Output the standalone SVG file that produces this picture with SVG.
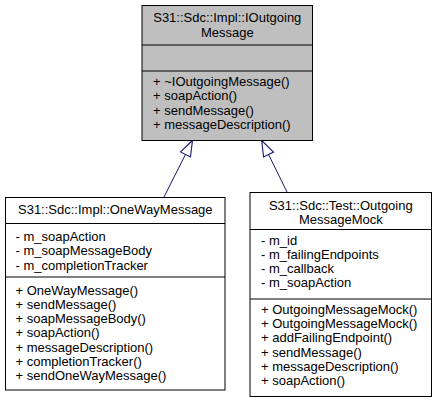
<svg xmlns="http://www.w3.org/2000/svg" width="434" height="404" viewBox="0 0 434 404">
<defs>
<style>
text{font-family:"Liberation Sans",Arial,sans-serif;font-size:13px;fill:#000}
.c{text-anchor:middle}
.box{stroke:#000;stroke-width:1}
.edge{stroke:#191970;stroke-width:1;fill:none}
</style>
<marker id="tri" markerUnits="userSpaceOnUse" markerWidth="20" markerHeight="20" viewBox="-16 -7 18 14" refX="0" refY="0" orient="auto">
<polygon points="0,0 -14,-5 -14,5" fill="#fff" stroke="#191970" stroke-width="1"/>
</marker>
</defs>
<rect width="434" height="404" fill="#fff"/>
<g id="connectors">
<path class="edge" d="M164,197 L192.5,140.5" marker-end="url(#tri)"/>
<path class="edge" d="M287,192 L261.7,140.5" marker-end="url(#tri)"/>
</g>
<g id="IOutgoingMessage">
<rect class="box" x="142" y="5.5" width="170.5" height="135" fill="#bfbfbf"/>
<line class="box" x1="142" y1="45" x2="312.5" y2="45"/>
<line class="box" x1="142" y1="71" x2="312.5" y2="71"/>
<text class="c" x="227.3" y="22">S31::Sdc::Impl::IOutgoing</text>
<text class="c" x="227.3" y="36.5">Message</text>
<text x="153" y="86">+ ~IOutgoingMessage()</text>
<text x="153" y="100.3">+ soapAction()</text>
<text x="153" y="114.6">+ sendMessage()</text>
<text x="153" y="128.9">+ messageDescription()</text>
</g>
<g id="OneWayMessage">
<rect class="box" x="5.5" y="197.5" width="219.5" height="192.5" fill="#fff"/>
<line class="box" x1="5.5" y1="223.5" x2="225" y2="223.5"/>
<line class="box" x1="5.5" y1="277" x2="225" y2="277"/>
<text class="c" x="115.3" y="214">S31::Sdc::Impl::OneWayMessage</text>
<text x="15.5" y="241">- m_soapAction</text>
<text x="15.5" y="255.3">- m_soapMessageBody</text>
<text x="15.5" y="269.6">- m_completionTracker</text>
<text x="15.5" y="294.5">+ OneWayMessage()</text>
<text x="15.5" y="308.8">+ sendMessage()</text>
<text x="15.5" y="323.1">+ soapMessageBody()</text>
<text x="15.5" y="337.4">+ soapAction()</text>
<text x="15.5" y="351.7">+ messageDescription()</text>
<text x="15.5" y="366">+ completionTracker()</text>
<text x="15.5" y="380.3">+ sendOneWayMessage()</text>
</g>
<g id="OutgoingMessageMock">
<rect class="box" x="250" y="192.5" width="181.5" height="204" fill="#fff"/>
<line class="box" x1="250" y1="229.5" x2="431.5" y2="229.5"/>
<line class="box" x1="250" y1="299" x2="431.5" y2="299"/>
<text class="c" x="340.8" y="210">S31::Sdc::Test::Outgoing</text>
<text class="c" x="340.8" y="224.3">MessageMock</text>
<text x="261" y="244.5">- m_id</text>
<text x="261" y="258.8">- m_failingEndpoints</text>
<text x="261" y="273.1">- m_callback</text>
<text x="261" y="287.4">- m_soapAction</text>
<text x="261" y="313.8">+ OutgoingMessageMock()</text>
<text x="261" y="328.1">+ OutgoingMessageMock()</text>
<text x="261" y="342.4">+ addFailingEndpoint()</text>
<text x="261" y="356.7">+ sendMessage()</text>
<text x="261" y="371">+ messageDescription()</text>
<text x="261" y="385.3">+ soapAction()</text>
</g>
</svg>
